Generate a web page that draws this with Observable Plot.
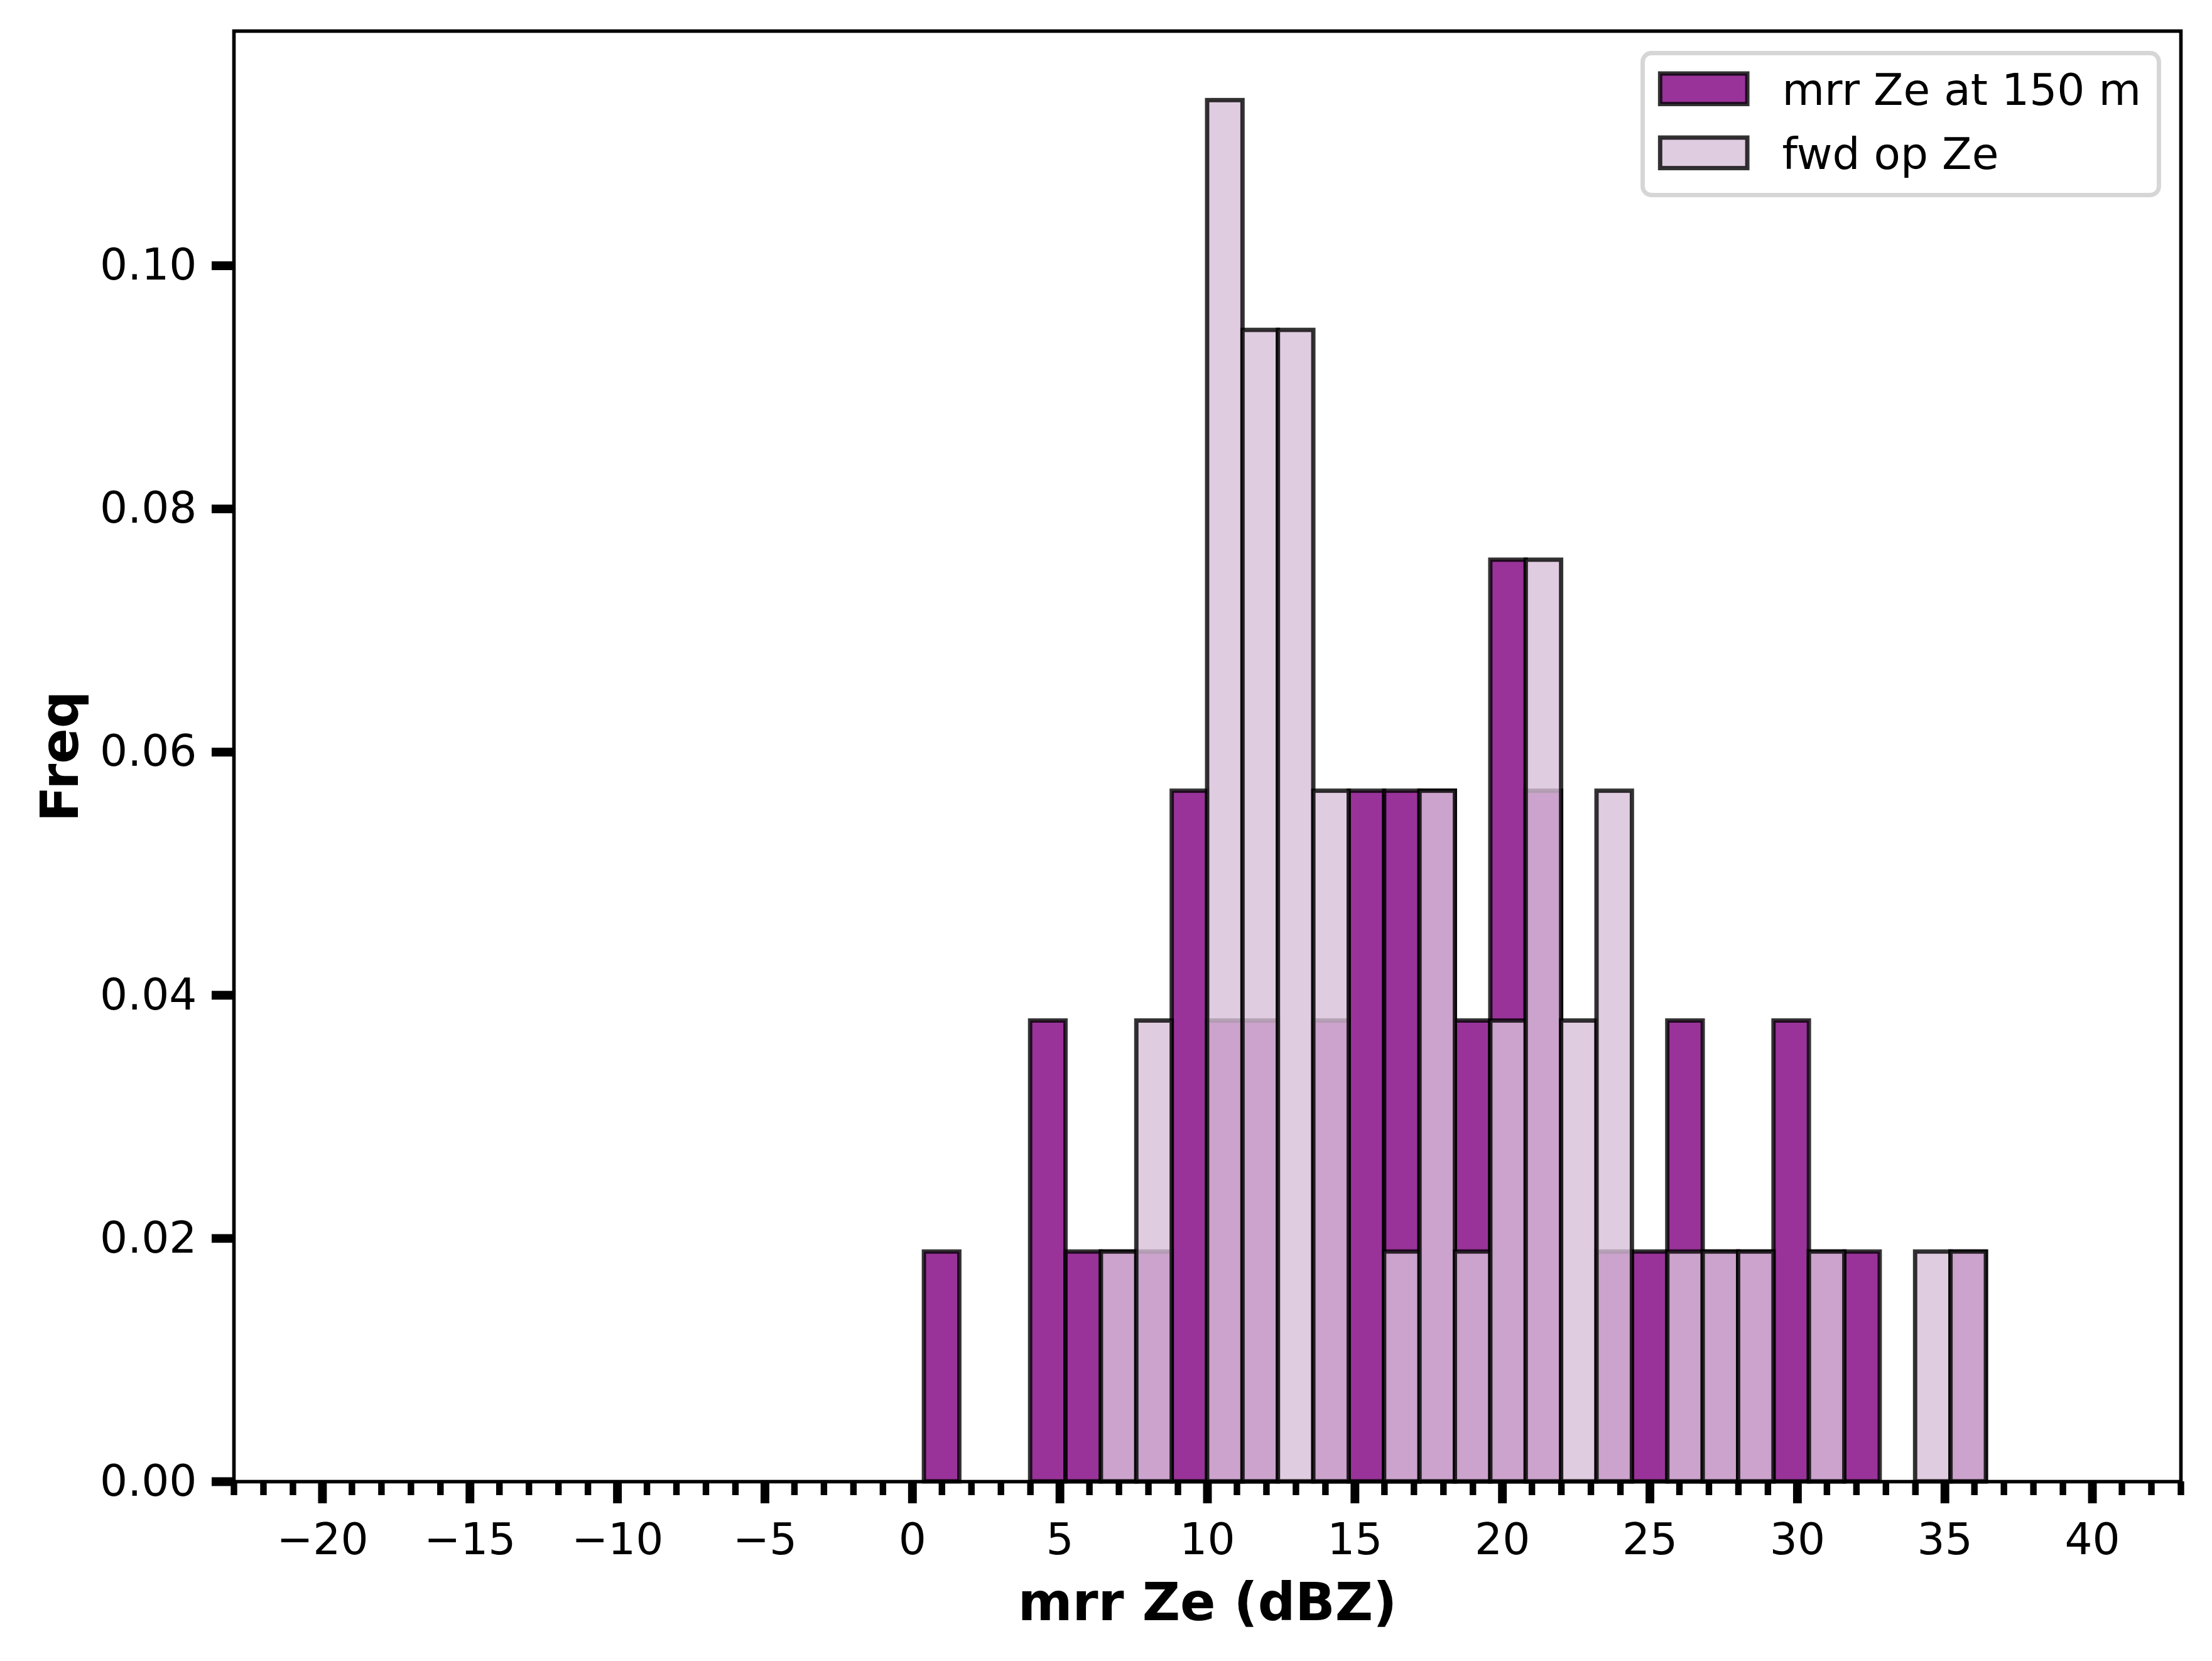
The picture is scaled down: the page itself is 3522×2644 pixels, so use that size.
<!DOCTYPE html>
<html>
<head>
<meta charset="utf-8">
<script src="https://cdn.jsdelivr.net/npm/d3@7"></script>
<script src="https://cdn.jsdelivr.net/npm/@observablehq/plot@0.6"></script>
<style>
  html, body { margin: 0; padding: 0; background: white; overflow: hidden; }
  #chart svg { display: block; }
</style>
</head>
<body>
<div id="chart"></div>
<script>
// ---- data (density histogram, bin width 1.2 dBZ) ----
const binWidth = 1.2;

const seriesNames = ["mrr Ze at 150 m", "fwd op Ze"];

// mrr Ze at 150 m : left bin edges and frequencies
const mrrBinLo = [0.4, 4.0, 5.2, 6.4, 7.6, 8.8, 10.0, 11.2, 13.6, 14.8, 16.0, 17.2,
                  18.4, 19.6, 20.8, 23.2, 24.4, 25.6, 26.8, 28.0, 29.2, 30.4, 31.6, 35.2];
const mrrFreq  = [0.0189, 0.0379, 0.0189, 0.0189, 0.0189, 0.0568, 0.0379, 0.0379, 0.0379, 0.0568, 0.0568, 0.0568,
                  0.0379, 0.0758, 0.0568, 0.0189, 0.0189, 0.0379, 0.0189, 0.0189, 0.0379, 0.0189, 0.0189, 0.0189];

// fwd op Ze : left bin edges and frequencies
const fwdBinLo = [6.4, 7.6, 10.0, 11.2, 12.4, 13.6, 16.0, 17.2, 18.4, 19.6, 20.8, 22.0,
                  23.2, 25.6, 26.8, 28.0, 30.4, 34.0, 35.2];
const fwdFreq  = [0.0189, 0.0379, 0.1136, 0.0947, 0.0947, 0.0568, 0.0189, 0.0568, 0.0189, 0.0379, 0.0758, 0.0379,
                  0.0568, 0.0189, 0.0189, 0.0189, 0.0189, 0.0189, 0.0189];

const xTicks = [-20, -15, -10, -5, 0, 5, 10, 15, 20, 25, 30, 35, 40];
const xMinorTicks = d3.range(-23, 44);
const yTicks = [0.00, 0.02, 0.04, 0.06, 0.08, 0.10];

const xLabel = "mrr Ze (dBZ)";
const yLabel = "Freq";

// ---- tables for the library ----
const mrrData = mrrBinLo.map((lo, i) => ({lo, hi: lo + binWidth, freq: mrrFreq[i]}));
const fwdData = fwdBinLo.map((lo, i) => ({lo, hi: lo + binWidth, freq: fwdFreq[i]}));

// ---- layout ----
const W = 3522, H = 2644;
const mL = 372, mR = 50, mT = 49, mB = 286;
const fs = 69.4;      // tick / legend font size
const fsLabel = 83.3; // axis label font size
const plotRight = W - mR, plotBottom = H - mB;

// legend geometry (in pixels)
const lgL = 2615, lgR = 3437, lgT = 84, lgB = 310;
const swL = 2642.8, swW = 138.8, swH = 48.6;
const sw1T = 116.5, sw2T = 218.5;
const txtX = 2837, txt1Base = 166, txt2Base = 268;

const minusFmt = d => d < 0 ? "\u2212" + Math.abs(d) : String(d);

const barStyle = {stroke: "black", strokeOpacity: 0.8, strokeWidth: 6.9};

const chart = Plot.plot({
  width: W,
  height: H,
  marginLeft: mL,
  marginRight: mR,
  marginTop: mT,
  marginBottom: mB,
  x: {domain: [-23, 43]},
  y: {domain: [0, 0.1193]},
  style: {fontFamily: "'DejaVu Sans', sans-serif", background: "white", color: "black"},
  marks: [
    Plot.rect(mrrData, {x1: "lo", x2: "hi", y1: d => 0, y2: "freq",
      fill: "purple", fillOpacity: 0.8, ...barStyle}),
    Plot.rect(fwdData, {x1: "lo", x2: "hi", y1: d => 0, y2: "freq",
      fill: "thistle", fillOpacity: 0.8, ...barStyle}),
    Plot.frame({stroke: "black", strokeWidth: 5.6}),
    // minor x ticks
    Plot.axisX({ticks: xMinorTicks, tickSize: 22, strokeWidth: 10.4, tickFormat: () => "", label: null}),
    // major x ticks
    Plot.axisX({ticks: xTicks, tickSize: 35, tickPadding: 31, strokeWidth: 13.9,
      tickFormat: minusFmt, fontSize: fs, label: null}),
    // y ticks
    Plot.axisY({ticks: yTicks, tickSize: 35, tickPadding: 24, strokeWidth: 13.9,
      tickFormat: d3.format(".2f"), fontSize: fs, label: null}),
    // axis labels
    Plot.text([xLabel], {frameAnchor: "bottom", text: d => d, dy: 2578 - plotBottom,
      lineAnchor: "bottom", textAnchor: "middle", fontWeight: "bold", fontSize: fsLabel}),
    Plot.text([yLabel], {frameAnchor: "left", text: d => d, rotate: -90, dx: 123 - mL,
      lineAnchor: "bottom", textAnchor: "middle", fontWeight: "bold", fontSize: fsLabel}),
    // legend box
    Plot.frame({insetLeft: lgL - mL, insetRight: plotRight - lgR, insetTop: lgT - mT, insetBottom: plotBottom - lgB,
      rx: 13.9, fill: "white", fillOpacity: 0.8, stroke: "#cccccc", strokeOpacity: 0.8, strokeWidth: 6.9}),
    // legend swatches
    Plot.frame({insetLeft: swL - mL, insetRight: plotRight - (swL + swW), insetTop: sw1T - mT,
      insetBottom: plotBottom - (sw1T + swH), fill: "purple", fillOpacity: 0.8, ...barStyle}),
    Plot.frame({insetLeft: swL - mL, insetRight: plotRight - (swL + swW), insetTop: sw2T - mT,
      insetBottom: plotBottom - (sw2T + swH), fill: "thistle", fillOpacity: 0.8, ...barStyle}),
    // legend texts
    Plot.text([seriesNames[0]], {frameAnchor: "top-left", text: d => d, dx: txtX - mL, dy: txt1Base - mT,
      lineAnchor: "bottom", textAnchor: "start", fontSize: fs}),
    Plot.text([seriesNames[1]], {frameAnchor: "top-left", text: d => d, dx: txtX - mL, dy: txt2Base - mT,
      lineAnchor: "bottom", textAnchor: "start", fontSize: fs})
  ]
});

document.getElementById("chart").appendChild(chart);
</script>
</body>
</html>
